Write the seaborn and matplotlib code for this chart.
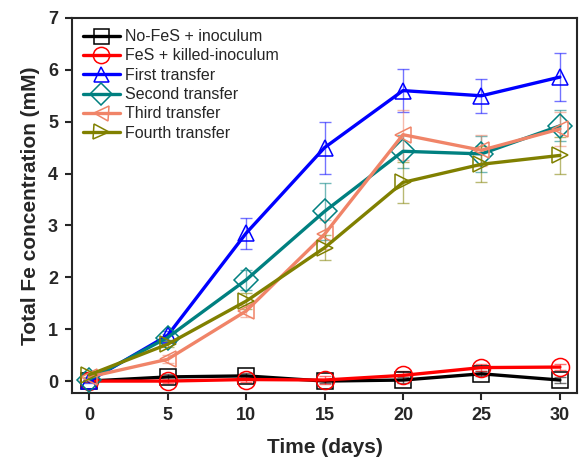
import matplotlib
matplotlib.use("Agg")
import matplotlib.pyplot as plt
import seaborn as sns
import pandas as pd
import numpy as np

days = [0, 5, 10, 15, 20, 25, 30]
series_names = ["No-FeS + inoculum", "FeS + killed-inoculum", "First transfer",
                "Second transfer", "Third transfer", "Fourth transfer"]
nofes = [0.0, 0.08, 0.10, 0.0, 0.02, 0.14, 0.02]
fes_killed = [0.0, 0.0, 0.03, 0.02, 0.11, 0.26, 0.27]
first = [0.0, 0.88, 2.85, 4.50, 5.60, 5.50, 5.86]
second = [0.03, 0.84, 1.95, 3.27, 4.43, 4.38, 4.92]
third = [0.08, 0.42, 1.35, 2.83, 4.75, 4.45, 4.86]
fourth = [0.12, 0.71, 1.54, 2.57, 3.83, 4.18, 4.35]

err_nofes = [0.02, 0.05, 0.05, 0.03, 0.05, 0.05, 0.05]
err_killed = [0.02, 0.03, 0.05, 0.08, 0.08, 0.06, 0.06]
err_first = [0.03, 0.08, 0.30, 0.50, 0.42, 0.33, 0.47]
err_second = [0.03, 0.06, 0.20, 0.55, 0.32, 0.35, 0.30]
err_third = [0.05, 0.08, 0.12, 0.28, 0.48, 0.30, 0.32]
err_fourth = [0.05, 0.06, 0.15, 0.24, 0.40, 0.35, 0.36]

values = [nofes, fes_killed, first, second, third, fourth]
errors = [err_nofes, err_killed, err_first, err_second, err_third, err_fourth]
colors = ["#000000", "#FF0000", "#0000FF", "#008080", "#F08468", "#808000"]
markers = ["s", "o", "^", "D", "<", ">"]

sns.set_style("ticks")
plt.rcParams['font.family'] = ['Liberation Sans', 'DejaVu Sans']

fig = plt.figure(figsize=(5.8, 4.61), dpi=100)
ax = fig.add_axes([0.124, 0.1475, 0.871, 0.8135])

rows = []
for name, vals in zip(series_names, values):
    for d, v in zip(days, vals):
        rows.append({"Time": d, "Fe": v, "Series": name})
df = pd.DataFrame(rows)

for name, vals, errs, c, m in zip(series_names, values, errors, colors, markers):
    ax.errorbar(days, vals, yerr=errs, fmt="none", ecolor=c, elinewidth=1.0,
                capsize=4, capthick=1.0, alpha=0.55, zorder=2)
    sub = df[df["Series"] == name]
    sns.lineplot(data=sub, x="Time", y="Fe", ax=ax, color=c, linewidth=2.4,
                 marker=m, markersize=12 if m not in ("o",) else 13,
                 markerfacecolor="none", markeredgecolor=c, markeredgewidth=1.1,
                 label=name, zorder=3)

ax.set_xlim(-1.1, 31.1)
ax.set_ylim(-0.23, 7.0)
ax.set_xticks(days)
ax.set_yticks(range(0, 8))
ax.tick_params(axis="both", direction="out", length=5, width=1.5, labelsize=13, pad=5)
for lab in ax.get_xticklabels() + ax.get_yticklabels():
    lab.set_fontweight("bold")
for sp in ax.spines.values():
    sp.set_linewidth(1.5)
    sp.set_visible(True)
ax.set_xlabel("Time (days)", fontsize=15, fontweight="bold", labelpad=10)
ax.set_ylabel("Total Fe concentration (mM)", fontsize=15, fontweight="bold", labelpad=6)

leg = ax.legend(loc="upper left", frameon=False, fontsize=11.5, handlelength=2.3,
                handletextpad=0.3, labelspacing=0.27, borderaxespad=0.3,
                markerscale=0.9, bbox_to_anchor=(0.0, 1.0))

fig.savefig("out.png", dpi=100)
